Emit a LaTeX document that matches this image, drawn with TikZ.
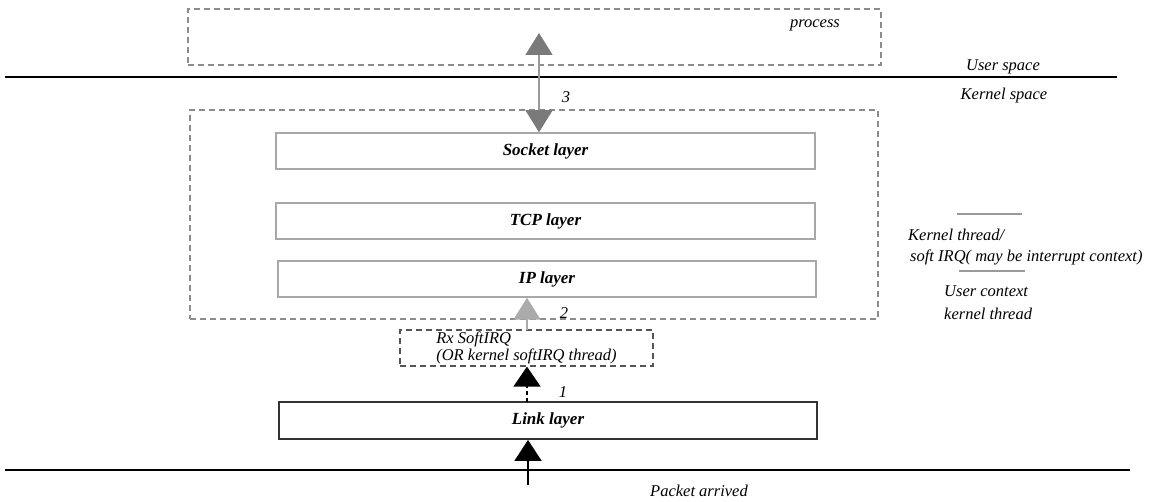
\documentclass[tikz,border=0pt]{standalone}
\usepackage{fontspec}
\setmainfont{Liberation Serif}
\usetikzlibrary{arrows.meta}
\definecolor{dashgray}{HTML}{8C8C8C}
\definecolor{boxgray}{HTML}{A8A8A8}
\definecolor{arrdark}{HTML}{7A7A7A}
\definecolor{arrline}{HTML}{9A9A9A}
\definecolor{arrlight}{HTML}{ABABAB}
\definecolor{rxgray}{HTML}{555555}
\definecolor{linkgray}{HTML}{333333}
\begin{document}
\begin{tikzpicture}[x=1pt,y=-1pt,
  font=\fontsize{16.5}{18}\selectfont\itshape,
  dbox/.style={draw=dashgray, dash pattern=on 6pt off 4pt, line width=1.2pt, inner sep=0pt},
  layerbox/.style={draw=boxgray, line width=1.5pt, minimum height=36pt, inner sep=0pt,
    font=\fontsize{17}{18}\selectfont\bfseries\itshape},
  lbl/.style={inner sep=0pt},
  sepline/.style={draw=arrline, line width=1.2pt}]
\useasboundingbox (0,0) rectangle (1167,502);

% dashed regions
\node[dbox, minimum width=693pt, minimum height=56pt] (proc) at (534.5,37) {};
\node[dbox, minimum width=688pt, minimum height=209pt] (kern) at (534,214.5) {};
\node[lbl] (proctxt) at (815,25) {process};

% user/kernel separator
\draw[line width=1.8pt] (5,77) -- (1117,77);
\node[lbl] (us) at (1003,67) {User space};
\node[lbl] (ks) at (1004,96) {Kernel space};

% layers
\node[layerbox, minimum width=539pt] (socket) at (545.5,151) {Socket layer};
\node[layerbox, minimum width=539pt] (tcp) at (545.5,221) {TCP layer};
\node[layerbox, minimum width=538pt] (ip) at (547,279) {IP layer};
\node[layerbox, draw=linkgray, line width=1.8pt, minimum width=538pt, minimum height=37pt] (link) at (548,420.5) {Link layer};

% Rx SoftIRQ box
\node[draw=rxgray, dash pattern=on 6pt off 4pt, line width=1.2pt, minimum width=253pt, minimum height=36pt,
  inner sep=0pt, align=left, font=\fontsize{16.5}{15}\selectfont\itshape] (rx) at (526.5,348)
  {Rx SoftIRQ\\(OR kernel softIRQ thread)};

% arrow 3 (process <-> socket)
\coordinate (a3top) at (539,33);
\draw[draw=arrline, line width=1.5pt,
  {Triangle[width=27pt,length=22pt,color=arrdark]}-{Triangle[width=27pt,length=22pt,color=arrdark]}]
  (a3top) -- (a3top |- socket.north);
\node[lbl] (n3) at (566,97) {3};

% arrow 2 (Rx -> IP)
\coordinate (a2) at (527,330);
\draw[draw=arrlight, line width=1.5pt, -{Triangle[width=27pt,length=22pt,color=arrlight]}]
  (a2) -- (a2 |- ip.south);
\node[lbl] (n2) at (564,313) {2};

% arrow 1 (Link -> Rx)
\coordinate (a1) at (527,402);
\draw[line width=1.3pt, dash pattern=on 4pt off 3pt, -{Triangle[width=27pt,length=20pt,color=black]}]
  (a1) -- (a1 |- rx.south);
\node[lbl] (n1) at (563,392) {1};

% bottom line and incoming packet
\draw[line width=1.5pt] (5,470) -- (1130,470);
\coordinate (pk) at (528,485);
\draw[line width=1.5pt, -{Triangle[width=27pt,length=21pt]}] (pk) -- (pk |- link.south);
\node[lbl, anchor=west] (pkt) at (650,491) {Packet arrived};

% right-hand annotations
\draw[sepline] (957,214) -- (1022,214);
\node[lbl, anchor=west] (kt) at (908,235) {Kernel thread/};
\node[lbl, anchor=west] (sirq) at (910,257) {soft IRQ( may be interrupt context)};
\draw[sepline] (959,271) -- (1025,271);
\node[lbl, anchor=west] (uc) at (944,291) {User context};
\node[lbl, anchor=west] (kth) at (944,314) {kernel thread};
\end{tikzpicture}
\end{document}
